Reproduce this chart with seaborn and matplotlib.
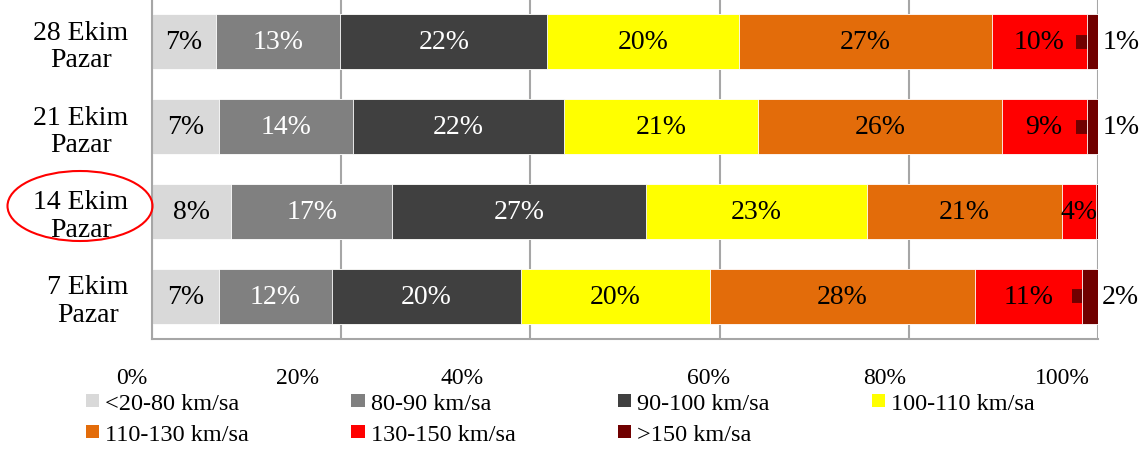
import numpy as np
import pandas as pd
import seaborn as sns
import matplotlib
matplotlib.use('Agg')
import matplotlib.pyplot as plt
from matplotlib.patches import Patch, Ellipse
from matplotlib.transforms import ScaledTranslation

# rows, top to bottom
days = ['28 Ekim\nPazar', '21 Ekim\nPazar', '14 Ekim\nPazar', '7 Ekim\nPazar']
speed_bins = ['<20-80 km/sa', '80-90 km/sa', '90-100 km/sa', '100-110 km/sa',
              '110-130 km/sa', '130-150 km/sa', '>150 km/sa']

# share of vehicles per speed bin (%)
share_20_80 = [6.8, 7.1, 8.4, 7.1]
share_80_90 = [13.1, 14.1, 17.0, 11.9]
share_90_100 = [21.9, 22.3, 26.8, 20.0]
share_100_110 = [20.2, 20.6, 23.4, 20.0]
share_110_130 = [26.8, 25.7, 20.6, 28.0]
share_130_150 = [10.0, 9.0, 3.6, 11.3]
share_150_up = [1.2, 1.2, 0.2, 1.7]

colors = ['#d9d9d9', '#808080', '#404040', '#ffff00', '#e36c0a', '#ff0000', '#700000']
text_colors = ['black', 'white', 'white', 'black', 'black', 'black', 'black']

shares = np.array([share_20_80, share_80_90, share_90_100, share_100_110,
                   share_110_130, share_130_150, share_150_up])
cum = shares.cumsum(axis=0)

df = pd.DataFrame({'day': days})
for name, col in zip(speed_bins, cum):
    df[name] = col

sns.set_theme(style='white')
plt.rcParams['font.family'] = ['Liberation Serif', 'DejaVu Serif']
plt.rcParams['text.color'] = 'black'
plt.rcParams['xtick.labelcolor'] = 'black'
plt.rcParams['ytick.labelcolor'] = 'black'

fig = plt.figure(figsize=(11.43, 4.52), dpi=100)
ax = fig.add_axes([152 / 1143, 1 - 340 / 452, 946 / 1143, 340 / 452])

# stacked bars: draw the cumulative totals from widest to narrowest
for name, color in reversed(list(zip(speed_bins, colors))):
    sns.barplot(data=df, x=name, y='day', orient='h', color=color, saturation=1,
                width=0.64, edgecolor='white', linewidth=0.6, errorbar=None, ax=ax)

# value labels
for i in range(len(days)):
    for j in range(len(speed_bins)):
        v = shares[j][i]
        left = cum[j][i] - v
        if v < 0.5:
            continue
        if j == len(speed_bins) - 1:
            ax.plot([left - 1.1, left], [i, i], color=colors[j], lw=10,
                    solid_capstyle='butt', zorder=3)
            ax.annotate(f'{v:.0f}%', xy=(100, i), xytext=(3, 0), textcoords='offset points',
                        ha='left', va='center', fontsize=20, color='black',
                        annotation_clip=False)
        else:
            ax.text(left + v / 2, i, f'{v:.0f}%', ha='center', va='center',
                    fontsize=20, color=text_colors[j], zorder=4)

ax.set_xlim(0, 100)
ax.set_xlabel('')
ax.set_ylabel('')
ax.set_xticks(range(0, 101, 20))
ax.set_xticklabels([f'{t}%' for t in range(0, 101, 20)])
ax.tick_params(axis='x', length=0, pad=20, labelsize=17, labelcolor='black')
ax.tick_params(axis='y', length=0, pad=17, labelsize=20, labelcolor='black')
for lab in ax.get_yticklabels():
    lab.set_multialignment('center')
    lab.set_linespacing(1.15)

# the x tick labels sit a little left of the gridlines in the original
shift_px = [-20, -44, -68, -11, -24, -36]
for lab, dx in zip(ax.get_xticklabels(), shift_px):
    lab.set_transform(lab.get_transform() + ScaledTranslation(dx / 100, 0, fig.dpi_scale_trans))

ax.grid(axis='x', color='#a6a6a6', lw=1.5)
ax.grid(axis='y', visible=False)
ax.set_axisbelow(True)
for s in ['top', 'right']:
    ax.spines[s].set_visible(False)
for s in ['left', 'bottom']:
    ax.spines[s].set_color('#a6a6a6')
    ax.spines[s].set_linewidth(1.5)

# legend, filled row by row
order = [0, 4, 1, 5, 2, 6, 3]
handles = [Patch(facecolor=colors[k], edgecolor='none', label=speed_bins[k]) for k in order]
fig.legend(handles=handles, ncol=4, loc='upper left', bbox_to_anchor=(86 / 1143, 1 - 394 / 452),
           bbox_transform=fig.transFigure, frameon=False, fontsize=17.5, labelcolor='black',
           handlelength=0.55, handleheight=0.46, handletextpad=0.25,
           columnspacing=4.2, labelspacing=0.42, borderpad=0, borderaxespad=0)

# red ring around 14 Ekim
fig.add_artist(Ellipse((80 / 1143, 1 - 207 / 452), 145 / 1143, 70 / 452,
                       transform=fig.transFigure, fill=False, edgecolor='red', lw=1.5))

fig.savefig('out.png', dpi=100)
